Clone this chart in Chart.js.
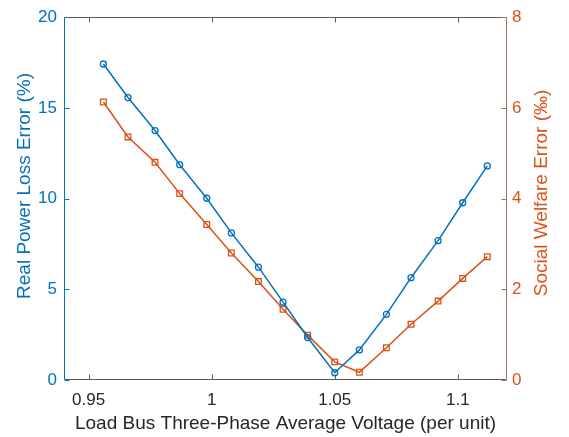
<!DOCTYPE html>
<html>
<head>
<meta charset="utf-8">
<script src="https://cdn.jsdelivr.net/npm/chart.js@4"></script>
<style>
  body { margin: 0; background: #fff; }
  #wrap { width: 569px; height: 437px; }
</style>
</head>
<body>
<div id="wrap"><canvas id="voltageChart" width="569" height="437"></canvas></div>
<script>
// data
const voltage = [0.956, 0.966, 0.977, 0.987, 0.998, 1.008, 1.019, 1.029, 1.039, 1.050, 1.060, 1.071, 1.081, 1.092, 1.102, 1.112];
const powerLossError = [17.42, 15.57, 13.75, 11.87, 10.02, 8.11, 6.22, 4.29, 2.34, 0.40, 1.66, 3.62, 5.64, 7.68, 9.77, 11.80];
const welfareError = [6.13, 5.36, 4.80, 4.11, 3.43, 2.80, 2.17, 1.56, 0.99, 0.40, 0.17, 0.71, 1.23, 1.74, 2.24, 2.72];
const xTicks = [0.95, 1, 1.05, 1.1];
const leftTicks = [0, 5, 10, 15, 20];
const rightTicks = [0, 2, 4, 6, 8];

const BLUE = '#0072BD';
const ORANGE = '#D95319';
const RIGHT_AXIS = '#a8725e';
const GREY = '#262626';
const FRAME = '#5c5c5c';
const FONT = "'Liberation Sans', Arial, Helvetica, sans-serif";

// MATLAB style frame: inward ticks, coloured y axes, rotated y titles
const matlabFrame = {
    id: 'matlabFrame',
    afterDraw(chart) {
        const { ctx, chartArea: a, scales } = chart;
        const L = Math.round(a.left) + 0.5, R = Math.round(a.right) - 0.5;
        const T = Math.round(a.top) + 0.5, B = Math.round(a.bottom) - 0.5;
        const tl = 5;
        ctx.save();
        ctx.lineWidth = 1;

        ctx.strokeStyle = FRAME;
        ctx.beginPath();
        ctx.moveTo(L, T); ctx.lineTo(R, T);
        ctx.moveTo(L, B); ctx.lineTo(R, B);
        xTicks.forEach(v => {
            const px = Math.round(scales.x.getPixelForValue(v)) + 0.5;
            ctx.moveTo(px, B); ctx.lineTo(px, B - tl);
            ctx.moveTo(px, T); ctx.lineTo(px, T + tl);
        });
        ctx.stroke();

        ctx.strokeStyle = BLUE;
        ctx.beginPath();
        ctx.moveTo(L, T); ctx.lineTo(L, B);
        leftTicks.forEach(v => {
            const py = Math.round(scales.y.getPixelForValue(v)) + 0.5;
            ctx.moveTo(L, py); ctx.lineTo(L + tl, py);
        });
        ctx.stroke();

        ctx.strokeStyle = RIGHT_AXIS;
        ctx.beginPath();
        ctx.moveTo(R, T); ctx.lineTo(R, B);
        rightTicks.forEach(v => {
            const py = Math.round(scales.y1.getPixelForValue(v)) + 0.5;
            ctx.moveTo(R, py); ctx.lineTo(R - tl, py);
        });
        ctx.stroke();

        // both y titles read bottom-to-top
        ctx.font = '19px ' + FONT;
        ctx.textAlign = 'center';
        ctx.textBaseline = 'middle';

        ctx.save();
        ctx.fillStyle = BLUE;
        ctx.translate(25, 186);
        ctx.rotate(-Math.PI / 2);
        ctx.fillText('Real Power Loss Error (%)', 0, 0);
        ctx.restore();

        ctx.fillStyle = ORANGE;
        ctx.translate(542, 193);
        ctx.rotate(-Math.PI / 2);
        ctx.fillText('Social Welfare Error (‰)', 0, 0);
        ctx.restore();
    }
};

const ctx = document.getElementById('voltageChart').getContext('2d');
const voltageChart = new Chart(ctx, {
    type: 'line',
    data: {
        datasets: [
            {
                label: 'Real Power Loss Error',
                data: voltage.map((v, i) => ({ x: v, y: powerLossError[i] })),
                yAxisID: 'y',
                borderColor: BLUE,
                borderWidth: 1.5,
                pointStyle: 'circle',
                pointRadius: 3,
                pointBorderWidth: 1.3,
                pointBorderColor: BLUE,
                pointBackgroundColor: 'rgba(0,0,0,0)',
                tension: 0,
                fill: false
            },
            {
                label: 'Social Welfare Error',
                data: voltage.map((v, i) => ({ x: v, y: welfareError[i] })),
                yAxisID: 'y1',
                borderColor: ORANGE,
                borderWidth: 1.5,
                pointStyle: 'rect',
                pointRadius: 4,
                pointBorderWidth: 1.3,
                pointBorderColor: ORANGE,
                pointBackgroundColor: 'rgba(0,0,0,0)',
                tension: 0,
                fill: false
            }
        ]
    },
    options: {
        responsive: false,
        animation: false,
        layout: { padding: { top: 10, left: 0, right: 0, bottom: 0 } },
        scales: {
            x: {
                type: 'linear',
                min: 0.94,
                max: 1.12,
                afterBuildTicks: s => { s.ticks = xTicks.map(v => ({ value: v })); },
                afterFit: s => { s.height = 57; },
                grid: { display: false, drawTicks: false },
                border: { display: false },
                ticks: {
                    color: GREY,
                    padding: 10,
                    maxRotation: 0,
                    font: { family: FONT, size: 17 },
                    callback: v => String(v)
                },
                title: {
                    display: true,
                    text: 'Load Bus Three-Phase Average Voltage (per unit)',
                    color: GREY,
                    padding: { top: 0, bottom: 2 },
                    font: { family: FONT, size: 19 }
                }
            },
            y: {
                position: 'left',
                min: 0,
                max: 20,
                afterBuildTicks: s => { s.ticks = leftTicks.map(v => ({ value: v })); },
                afterFit: s => { s.width = 64; },
                grid: { display: false, drawTicks: false },
                border: { display: false },
                ticks: {
                    color: BLUE,
                    padding: 7,
                    font: { family: FONT, size: 17 }
                }
            },
            y1: {
                position: 'right',
                min: 0,
                max: 8,
                afterBuildTicks: s => { s.ticks = rightTicks.map(v => ({ value: v })); },
                afterFit: s => { s.width = 62; },
                grid: { display: false, drawTicks: false },
                border: { display: false },
                ticks: {
                    color: ORANGE,
                    padding: 5,
                    font: { family: FONT, size: 17 }
                }
            }
        },
        plugins: {
            legend: { display: false },
            tooltip: { enabled: false }
        }
    },
    plugins: [matlabFrame]
});
</script>
</body>
</html>
